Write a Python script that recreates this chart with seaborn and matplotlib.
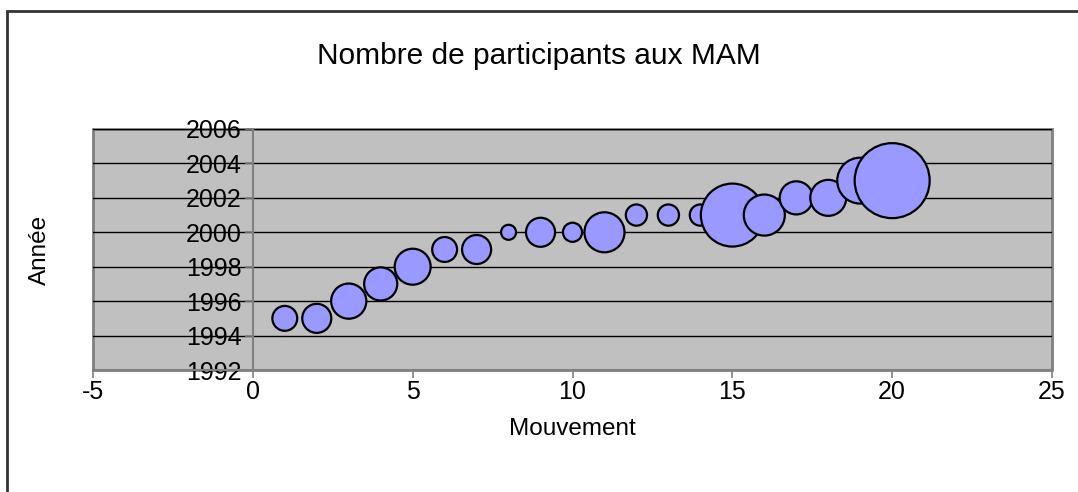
import matplotlib
matplotlib.use("Agg")
import matplotlib.pyplot as plt
import seaborn as sns
import pandas as pd
from matplotlib.patches import Rectangle

# --- données ---
mouvement = list(range(1, 21))
annee = [1995, 1995, 1996, 1997, 1998, 1999, 1999, 2000, 2000, 2000,
         2000, 2001, 2001, 2001, 2001, 2001, 2002, 2002, 2003, 2003]
participants = [110, 150, 220, 195, 230, 110, 150, 40, 150, 65,
                285, 80, 80, 80, 705, 300, 195, 230, 375, 1000]

df = pd.DataFrame({"Mouvement": mouvement, "Annee": annee, "Participants": participants})

sns.set_theme(style="white")
plt.rcParams['font.family'] = ['Liberation Sans', 'DejaVu Sans']
plt.rcParams['axes.unicode_minus'] = False
plt.rcParams['text.color'] = 'black'

fig = plt.figure(figsize=(10.78, 4.92), dpi=100)
ax = fig.add_axes([93 / 1078, 1 - 370 / 492, (1052 - 93) / 1078, (370 - 129) / 492])

# bordure du graphique
fig.patches.append(Rectangle((7 / 1078, -0.1), 1.2, 1 - 11 / 492 + 0.1, transform=fig.transFigure,
                             fill=False, edgecolor='#333333', linewidth=2))

ax.set_facecolor('#C0C0C0')
ax.patch.set_edgecolor('#808080')
ax.patch.set_linewidth(2)

sns.scatterplot(ax=ax, data=df, x="Mouvement", y="Annee", size="Participants",
                sizes=(0, 2916), size_norm=(0, 1000), color='#9999FF',
                edgecolor='black', linewidth=1.6, alpha=1, legend=False, zorder=3)

ax.set_xlim(-5, 25)
ax.set_ylim(1992, 2006)
ax.set_xticks(range(-5, 26, 5))
ax.set_yticks(range(1992, 2007, 2))

ax.yaxis.grid(True, color='black', linewidth=1)
ax.set_axisbelow(True)

for s in ['top', 'right']:
    ax.spines[s].set_visible(False)
ax.spines['left'].set_position(('data', 0))
ax.spines['left'].set_color('#808080')
ax.spines['left'].set_linewidth(1.5)
ax.spines['bottom'].set_color('#808080')
ax.spines['bottom'].set_linewidth(1.5)

ax.tick_params(axis='both', which='major', direction='out', length=6, width=1.2,
               color='#808080', labelsize=18, labelcolor='black', left=True, bottom=True)
ax.tick_params(axis='y', pad=2)
ax.tick_params(axis='x', pad=1)

ax.set_xlabel("Mouvement", fontsize=17.5, labelpad=10, color='black')
ax.set_ylabel("")
fig.text(40 / 1078, 1 - 250 / 492, "Année", rotation=90, ha='center', va='center', fontsize=17.5)

fig.text(0.5, 1 - 56 / 492, "Nombre de participants aux MAM", ha='center', va='center', fontsize=21.5)

fig.savefig("out.png", dpi=100)
